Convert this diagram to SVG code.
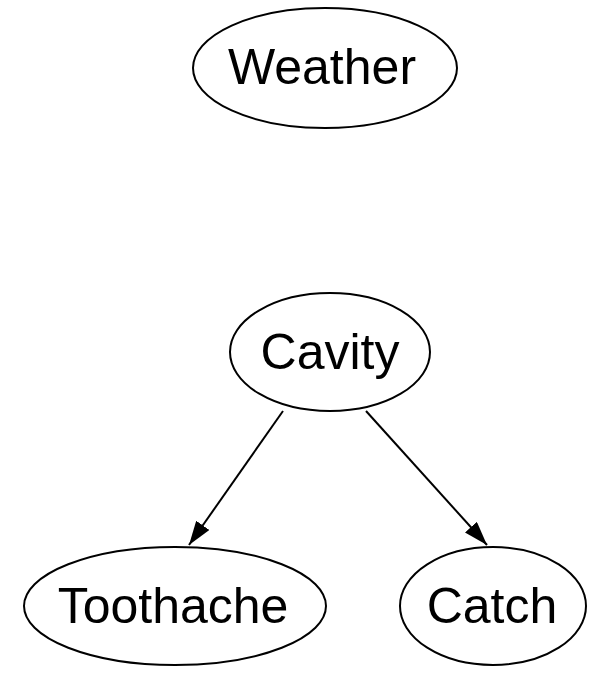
<svg xmlns="http://www.w3.org/2000/svg" width="599" height="695" viewBox="0 0 599 695">
<style>
.n{fill:#fff;stroke:#000;stroke-width:2}
.t{font-family:"Liberation Sans",Arial,sans-serif;font-size:50px;fill:#000;text-anchor:middle}
.e{stroke:#000;stroke-width:2;fill:none}
</style>
<defs>
<marker id="a" viewBox="0 0 24 16" refX="24" refY="8" markerWidth="24" markerHeight="16" markerUnits="userSpaceOnUse" orient="auto">
<path d="M0,0 L24,8 L0,16 Z" fill="#000"/>
</marker>
</defs>
<rect width="599" height="695" fill="#fff"/>
<g id="edges">
<line class="e" x1="283" y1="411" x2="189" y2="545" marker-end="url(#a)"/>
<line class="e" x1="366" y1="411" x2="487" y2="545" marker-end="url(#a)"/>
</g>
<g id="weather"><ellipse class="n" cx="325" cy="68" rx="132" ry="60"/><text class="t" x="322" y="84">Weather</text></g>
<g id="cavity"><ellipse class="n" cx="330" cy="352" rx="100" ry="59"/><text class="t" x="330" y="369">Cavity</text></g>
<g id="toothache"><ellipse class="n" cx="175" cy="606" rx="151" ry="59"/><text class="t" x="173" y="623">Toothache</text></g>
<g id="catch"><ellipse class="n" cx="493" cy="606" rx="93" ry="59"/><text class="t" x="492" y="623">Catch</text></g>
</svg>
